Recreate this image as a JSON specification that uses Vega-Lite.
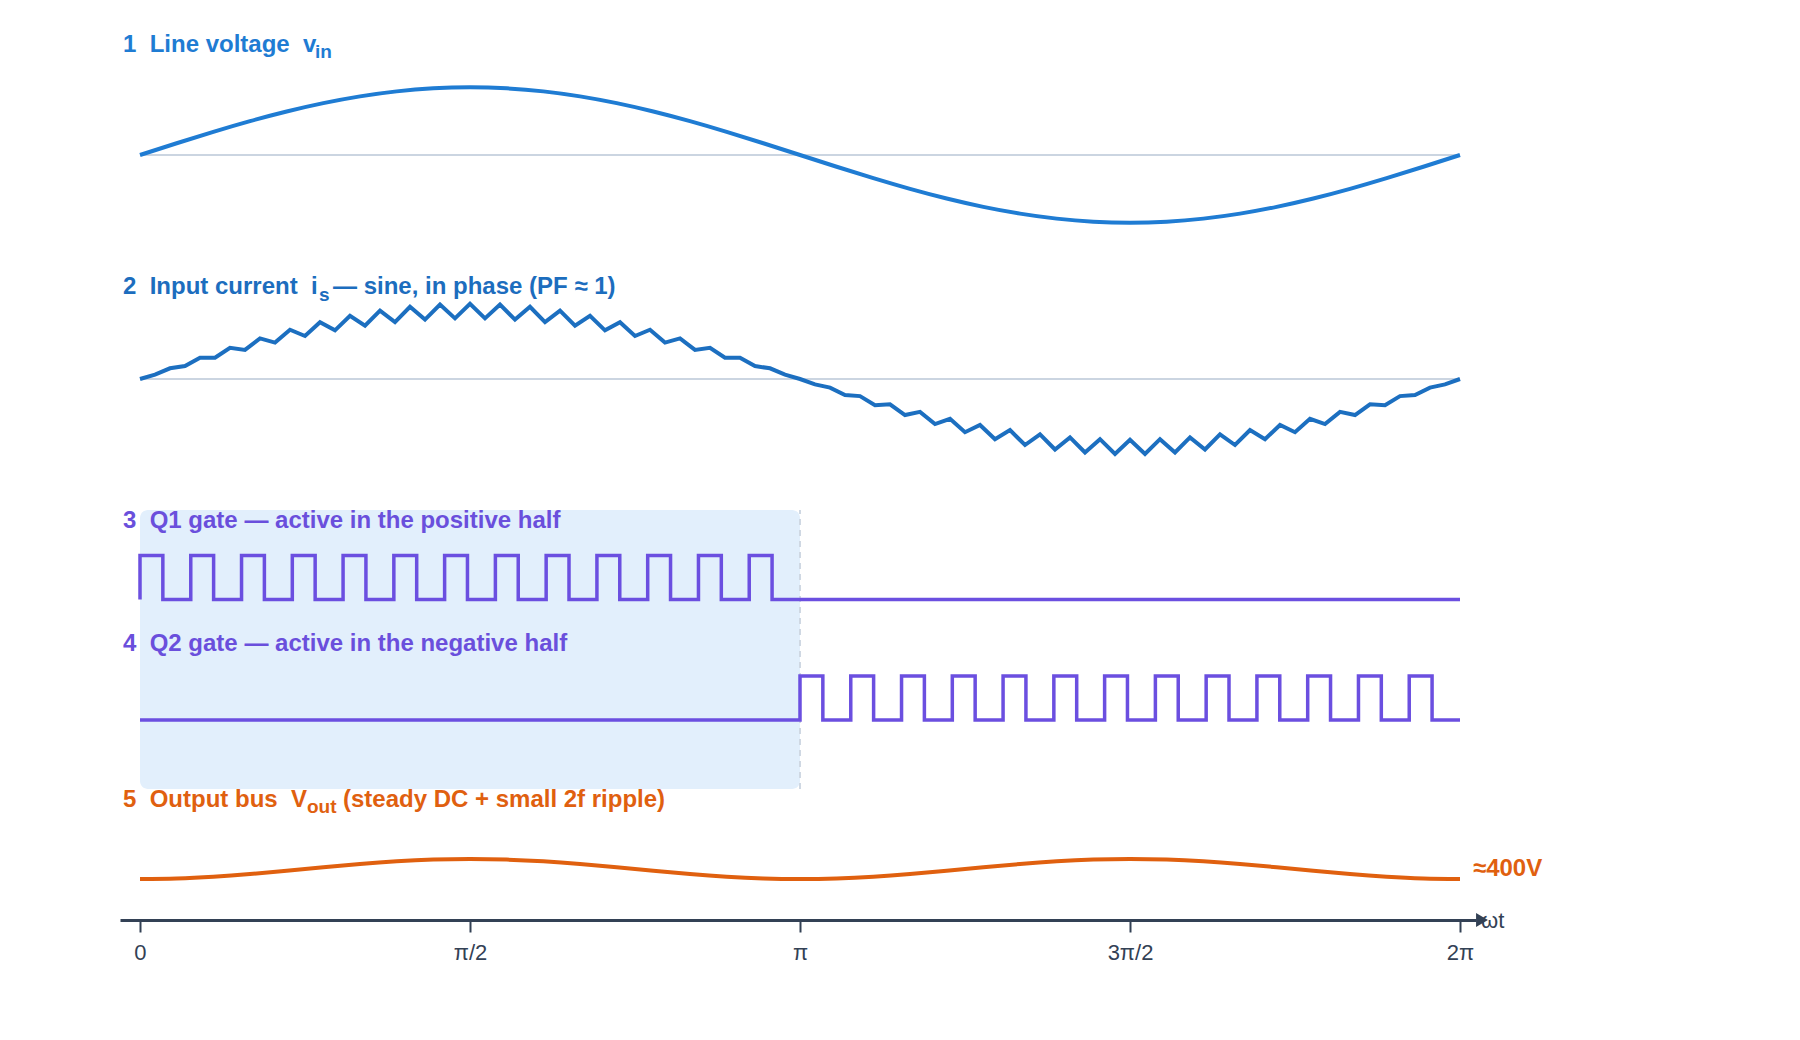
{
  "$schema": "https://vega.github.io/schema/vega-lite/v6.json",
  "width": 1800,
  "height": 1040,
  "padding": 0,
  "autosize": {"type": "fit", "contains": "padding"},
  "background": "white",
  "config": {"view": {"stroke": null}, "font": "Liberation Sans"},
  "datasets": {
    "vin": [
      {"deg": 0, "v": 0}, {"deg": 10, "v": 0.1736}, {"deg": 20, "v": 0.342}, {"deg": 30, "v": 0.5}, {"deg": 40, "v": 0.6428}, {"deg": 50, "v": 0.766}, {"deg": 60, "v": 0.866}, {"deg": 70, "v": 0.9397}, {"deg": 80, "v": 0.9848}, {"deg": 90, "v": 1},
      {"deg": 100, "v": 0.9848}, {"deg": 110, "v": 0.9397}, {"deg": 120, "v": 0.866}, {"deg": 130, "v": 0.766}, {"deg": 140, "v": 0.6428}, {"deg": 150, "v": 0.5}, {"deg": 160, "v": 0.342}, {"deg": 170, "v": 0.1736}, {"deg": 180, "v": 0},
      {"deg": 190, "v": -0.1736}, {"deg": 200, "v": -0.342}, {"deg": 210, "v": -0.5}, {"deg": 220, "v": -0.6428}, {"deg": 230, "v": -0.766}, {"deg": 240, "v": -0.866}, {"deg": 250, "v": -0.9397}, {"deg": 260, "v": -0.9848}, {"deg": 270, "v": -1},
      {"deg": 280, "v": -0.9848}, {"deg": 290, "v": -0.9397}, {"deg": 300, "v": -0.866}, {"deg": 310, "v": -0.766}, {"deg": 320, "v": -0.6428}, {"deg": 330, "v": -0.5}, {"deg": 340, "v": -0.342}, {"deg": 350, "v": -0.1736}, {"deg": 360, "v": 0}
    ],
    "is": [
      {"deg": 0, "i": 0}, {"deg": 4.091, "i": 0.0638}, {"deg": 8.182, "i": 0.1574}, {"deg": 12.273, "i": 0.19}, {"deg": 16.364, "i": 0.3116}, {"deg": 20.455, "i": 0.3124}, {"deg": 24.545, "i": 0.4595}, {"deg": 28.636, "i": 0.4284}, {"deg": 32.727, "i": 0.598}, {"deg": 36.818, "i": 0.5358}, {"deg": 40.909, "i": 0.7243}, {"deg": 45, "i": 0.6322}, {"deg": 49.091, "i": 0.8359}, {"deg": 53.182, "i": 0.7157}, {"deg": 57.273, "i": 0.9304}, {"deg": 61.364, "i": 0.7846}, {"deg": 65.455, "i": 1.0061}, {"deg": 69.545, "i": 0.8376}, {"deg": 73.636, "i": 1.0612}, {"deg": 77.727, "i": 0.8736}, {"deg": 81.818, "i": 1.0947}, {"deg": 85.909, "i": 0.8917}, {"deg": 90, "i": 1.106},
      {"deg": 94.091, "i": 0.8917}, {"deg": 98.182, "i": 1.0947}, {"deg": 102.273, "i": 0.8736}, {"deg": 106.364, "i": 1.0612}, {"deg": 110.455, "i": 0.8376}, {"deg": 114.545, "i": 1.0061}, {"deg": 118.636, "i": 0.7846}, {"deg": 122.727, "i": 0.9304}, {"deg": 126.818, "i": 0.7157}, {"deg": 130.909, "i": 0.8359}, {"deg": 135, "i": 0.6322}, {"deg": 139.091, "i": 0.7243}, {"deg": 143.182, "i": 0.5358}, {"deg": 147.273, "i": 0.598}, {"deg": 151.364, "i": 0.4284}, {"deg": 155.455, "i": 0.4595}, {"deg": 159.545, "i": 0.3124}, {"deg": 163.636, "i": 0.3116}, {"deg": 167.727, "i": 0.19}, {"deg": 171.818, "i": 0.1574}, {"deg": 175.909, "i": 0.0638}, {"deg": 180, "i": 0},
      {"deg": 184.091, "i": -0.0789}, {"deg": 188.182, "i": -0.1272}, {"deg": 192.273, "i": -0.2351}, {"deg": 196.364, "i": -0.2519}, {"deg": 200.455, "i": -0.3865}, {"deg": 204.545, "i": -0.3714}, {"deg": 208.636, "i": -0.5301}, {"deg": 212.727, "i": -0.4833}, {"deg": 216.818, "i": -0.6628}, {"deg": 220.909, "i": -0.5854}, {"deg": 225, "i": -0.7821}, {"deg": 229.091, "i": -0.6756}, {"deg": 233.182, "i": -0.8854}, {"deg": 237.273, "i": -0.7521}, {"deg": 241.364, "i": -0.9707}, {"deg": 245.455, "i": -0.8132}, {"deg": 249.545, "i": -1.0363}, {"deg": 253.636, "i": -0.8578}, {"deg": 257.727, "i": -1.0807}, {"deg": 261.818, "i": -0.8849}, {"deg": 265.909, "i": -1.1032}, {"deg": 270, "i": -0.894},
      {"deg": 274.091, "i": -1.1032}, {"deg": 278.182, "i": -0.8849}, {"deg": 282.273, "i": -1.0807}, {"deg": 286.364, "i": -0.8578}, {"deg": 290.455, "i": -1.0363}, {"deg": 294.545, "i": -0.8132}, {"deg": 298.636, "i": -0.9707}, {"deg": 302.727, "i": -0.7521}, {"deg": 306.818, "i": -0.8854}, {"deg": 310.909, "i": -0.6756}, {"deg": 315, "i": -0.7821}, {"deg": 319.091, "i": -0.5854}, {"deg": 323.182, "i": -0.6628}, {"deg": 327.273, "i": -0.4833}, {"deg": 331.364, "i": -0.5301}, {"deg": 335.455, "i": -0.3714}, {"deg": 339.545, "i": -0.3865}, {"deg": 343.636, "i": -0.2519}, {"deg": 347.727, "i": -0.2351}, {"deg": 351.818, "i": -0.1272}, {"deg": 355.909, "i": -0.0789}, {"deg": 360, "i": 0}
    ],
    "q1": [
      {"k": 0, "deg": 0, "g": 0}, {"k": 1, "deg": 0, "g": 1}, {"k": 2, "deg": 6.231, "g": 0}, {"k": 3, "deg": 13.846, "g": 1}, {"k": 4, "deg": 20.077, "g": 0}, {"k": 5, "deg": 27.692, "g": 1}, {"k": 6, "deg": 33.923, "g": 0}, {"k": 7, "deg": 41.538, "g": 1}, {"k": 8, "deg": 47.769, "g": 0}, {"k": 9, "deg": 55.385, "g": 1}, {"k": 10, "deg": 61.615, "g": 0}, {"k": 11, "deg": 69.231, "g": 1}, {"k": 12, "deg": 75.462, "g": 0}, {"k": 13, "deg": 83.077, "g": 1}, {"k": 14, "deg": 89.308, "g": 0}, {"k": 15, "deg": 96.923, "g": 1}, {"k": 16, "deg": 103.154, "g": 0}, {"k": 17, "deg": 110.769, "g": 1}, {"k": 18, "deg": 117, "g": 0}, {"k": 19, "deg": 124.615, "g": 1}, {"k": 20, "deg": 130.846, "g": 0}, {"k": 21, "deg": 138.462, "g": 1}, {"k": 22, "deg": 144.692, "g": 0}, {"k": 23, "deg": 152.308, "g": 1}, {"k": 24, "deg": 158.538, "g": 0}, {"k": 25, "deg": 166.154, "g": 1}, {"k": 26, "deg": 172.385, "g": 0}, {"k": 27, "deg": 360, "g": 0}
    ],
    "q2": [
      {"k": 0, "deg": 0, "g": 0}, {"k": 1, "deg": 180, "g": 1}, {"k": 2, "deg": 186.231, "g": 0}, {"k": 3, "deg": 193.846, "g": 1}, {"k": 4, "deg": 200.077, "g": 0}, {"k": 5, "deg": 207.692, "g": 1}, {"k": 6, "deg": 213.923, "g": 0}, {"k": 7, "deg": 221.538, "g": 1}, {"k": 8, "deg": 227.769, "g": 0}, {"k": 9, "deg": 235.385, "g": 1}, {"k": 10, "deg": 241.615, "g": 0}, {"k": 11, "deg": 249.231, "g": 1}, {"k": 12, "deg": 255.462, "g": 0}, {"k": 13, "deg": 263.077, "g": 1}, {"k": 14, "deg": 269.308, "g": 0}, {"k": 15, "deg": 276.923, "g": 1}, {"k": 16, "deg": 283.154, "g": 0}, {"k": 17, "deg": 290.769, "g": 1}, {"k": 18, "deg": 297, "g": 0}, {"k": 19, "deg": 304.615, "g": 1}, {"k": 20, "deg": 310.846, "g": 0}, {"k": 21, "deg": 318.462, "g": 1}, {"k": 22, "deg": 324.692, "g": 0}, {"k": 23, "deg": 332.308, "g": 1}, {"k": 24, "deg": 338.538, "g": 0}, {"k": 25, "deg": 346.154, "g": 1}, {"k": 26, "deg": 352.385, "g": 0}, {"k": 27, "deg": 360, "g": 0}
    ],
    "vout": [
      {"deg": 0, "v": 395}, {"deg": 10, "v": 395.3}, {"deg": 20, "v": 396.17}, {"deg": 30, "v": 397.5}, {"deg": 40, "v": 399.13}, {"deg": 50, "v": 400.87}, {"deg": 60, "v": 402.5}, {"deg": 70, "v": 403.83}, {"deg": 80, "v": 404.7}, {"deg": 90, "v": 405},
      {"deg": 100, "v": 404.7}, {"deg": 110, "v": 403.83}, {"deg": 120, "v": 402.5}, {"deg": 130, "v": 400.87}, {"deg": 140, "v": 399.13}, {"deg": 150, "v": 397.5}, {"deg": 160, "v": 396.17}, {"deg": 170, "v": 395.3}, {"deg": 180, "v": 395},
      {"deg": 190, "v": 395.3}, {"deg": 200, "v": 396.17}, {"deg": 210, "v": 397.5}, {"deg": 220, "v": 399.13}, {"deg": 230, "v": 400.87}, {"deg": 240, "v": 402.5}, {"deg": 250, "v": 403.83}, {"deg": 260, "v": 404.7}, {"deg": 270, "v": 405},
      {"deg": 280, "v": 404.7}, {"deg": 290, "v": 403.83}, {"deg": 300, "v": 402.5}, {"deg": 310, "v": 400.87}, {"deg": 320, "v": 399.13}, {"deg": 330, "v": 397.5}, {"deg": 340, "v": 396.17}, {"deg": 350, "v": 395.3}, {"deg": 360, "v": 395}
    ],
    "half": [{"start": 0, "end": 180}],
    "one": [{}]
  },
  "resolve": {"scale": {"y": "independent"}, "axis": {"x": "independent"}},
  "layer": [
    {
      "data": {"name": "half"},
      "mark": {"type": "rect", "color": "#e2effc", "cornerRadius": 8},
      "encoding": {
        "x": {"field": "start", "type": "quantitative", "scale": {"domain": [-5.4545, 364.3636], "range": [120, 1476], "nice": false, "zero": false}, "axis": null},
        "x2": {"field": "end"},
        "y": {"datum": 0, "type": "quantitative", "scale": {"domain": [0, 1], "range": [789, 510], "nice": false, "zero": false}, "axis": null},
        "y2": {"datum": 1}
      }
    },
    {
      "data": {"name": "half"},
      "mark": {"type": "rule", "color": "#cfd8e3", "strokeWidth": 2, "strokeDash": [6, 5]},
      "encoding": {
        "x": {"field": "end", "type": "quantitative", "scale": {"domain": [-5.4545, 364.3636], "range": [120, 1476], "nice": false, "zero": false}, "axis": null},
        "y": {"datum": 0, "type": "quantitative", "scale": {"domain": [0, 1], "range": [789, 510], "nice": false, "zero": false}, "axis": null},
        "y2": {"datum": 1}
      }
    },
    {
      "data": {"name": "one"},
      "mark": {"type": "rule", "color": "#cbd5e1", "strokeWidth": 2},
      "encoding": {
        "x": {"datum": 0, "type": "quantitative", "scale": {"domain": [-5.4545, 364.3636], "range": [120, 1476], "nice": false, "zero": false}, "axis": null},
        "x2": {"datum": 360},
        "y": {"datum": 0, "type": "quantitative", "scale": {"domain": [-1, 1], "range": [222.7, 87.3], "nice": false, "zero": false}, "axis": null}
      }
    },
    {
      "data": {"name": "vin"},
      "mark": {"type": "line", "interpolate": "natural", "strokeWidth": 4, "color": "#1f7cd3"},
      "encoding": {
        "x": {
          "field": "deg", "type": "quantitative",
          "scale": {"domain": [-5.4545, 364.3636], "range": [120, 1476], "nice": false, "zero": false},
          "axis": {
            "orient": "bottom", "offset": -120, "values": [0, 90, 180, 270, 360],
            "labelExpr": "datum.value == 0 ? '0' : datum.value == 90 ? 'π/2' : datum.value == 180 ? 'π' : datum.value == 270 ? '3π/2' : '2π'",
            "title": null, "grid": false,
            "domain": true, "domainColor": "#334155", "domainWidth": 3,
            "ticks": true, "tickSize": 12, "tickWidth": 2, "tickColor": "#334155",
            "labelFont": "Liberation Sans", "labelFontSize": 22, "labelColor": "#334155", "labelPadding": 10,
            "labelFlush": false, "labelOverlap": false
          }
        },
        "y": {"field": "v", "type": "quantitative", "scale": {"domain": [-1, 1], "range": [222.7, 87.3], "nice": false, "zero": false}, "axis": null}
      }
    },
    {
      "data": {"name": "one"},
      "mark": {"type": "text", "text": "1\u00a0\u00a0Line voltage\u00a0\u00a0v", "font": "Liberation Sans", "fontSize": 24, "fontWeight": "bold", "color": "#1f7cd3", "align": "left", "baseline": "alphabetic", "dx": -17},
      "encoding": {
        "x": {"datum": 0, "type": "quantitative", "scale": {"domain": [-5.4545, 364.3636], "range": [120, 1476], "nice": false, "zero": false}, "axis": null},
        "y": {"datum": 1.517, "type": "quantitative", "scale": {"domain": [-1, 1], "range": [222.7, 87.3], "nice": false, "zero": false}, "axis": null}
      }
    },
    {
      "data": {"name": "one"},
      "mark": {"type": "text", "text": "in", "font": "Liberation Sans", "fontSize": 19, "fontWeight": "bold", "color": "#1f7cd3", "align": "left", "baseline": "alphabetic", "dx": 175},
      "encoding": {
        "x": {"datum": 0, "type": "quantitative", "scale": {"domain": [-5.4545, 364.3636], "range": [120, 1476], "nice": false, "zero": false}, "axis": null},
        "y": {"datum": 1.44, "type": "quantitative", "scale": {"domain": [-1, 1], "range": [222.7, 87.3], "nice": false, "zero": false}, "axis": null}
      }
    },
    {
      "data": {"name": "one"},
      "mark": {"type": "rule", "color": "#cbd5e1", "strokeWidth": 2},
      "encoding": {
        "x": {"datum": 0, "type": "quantitative", "scale": {"domain": [-5.4545, 364.3636], "range": [120, 1476], "nice": false, "zero": false}, "axis": null},
        "x2": {"datum": 360},
        "y": {"datum": 0, "type": "quantitative", "scale": {"domain": [-1, 1], "range": [447, 311], "nice": false, "zero": false}, "axis": null}
      }
    },
    {
      "data": {"name": "is"},
      "mark": {"type": "line", "strokeWidth": 4, "color": "#1c6fc0"},
      "encoding": {
        "x": {"field": "deg", "type": "quantitative", "scale": {"domain": [-5.4545, 364.3636], "range": [120, 1476], "nice": false, "zero": false}, "axis": null},
        "y": {"field": "i", "type": "quantitative", "scale": {"domain": [-1, 1], "range": [447, 311], "nice": false, "zero": false}, "axis": null}
      }
    },
    {
      "data": {"name": "one"},
      "mark": {"type": "text", "text": "2\u00a0\u00a0Input current\u00a0\u00a0i", "font": "Liberation Sans", "fontSize": 24, "fontWeight": "bold", "color": "#1c6dbe", "align": "left", "baseline": "alphabetic", "dx": -17},
      "encoding": {
        "x": {"datum": 0, "type": "quantitative", "scale": {"domain": [-5.4545, 364.3636], "range": [120, 1476], "nice": false, "zero": false}, "axis": null},
        "y": {"datum": 1.243, "type": "quantitative", "scale": {"domain": [-1, 1], "range": [447, 311], "nice": false, "zero": false}, "axis": null}
      }
    },
    {
      "data": {"name": "one"},
      "mark": {"type": "text", "text": "s", "font": "Liberation Sans", "fontSize": 19, "fontWeight": "bold", "color": "#1c6dbe", "align": "left", "baseline": "alphabetic", "dx": 179},
      "encoding": {
        "x": {"datum": 0, "type": "quantitative", "scale": {"domain": [-5.4545, 364.3636], "range": [120, 1476], "nice": false, "zero": false}, "axis": null},
        "y": {"datum": 1.147, "type": "quantitative", "scale": {"domain": [-1, 1], "range": [447, 311], "nice": false, "zero": false}, "axis": null}
      }
    },
    {
      "data": {"name": "one"},
      "mark": {"type": "text", "text": "— sine, in phase (PF ≈ 1)", "font": "Liberation Sans", "fontSize": 24, "fontWeight": "bold", "color": "#1c6dbe", "align": "left", "baseline": "alphabetic", "dx": 193},
      "encoding": {
        "x": {"datum": 0, "type": "quantitative", "scale": {"domain": [-5.4545, 364.3636], "range": [120, 1476], "nice": false, "zero": false}, "axis": null},
        "y": {"datum": 1.243, "type": "quantitative", "scale": {"domain": [-1, 1], "range": [447, 311], "nice": false, "zero": false}, "axis": null}
      }
    },
    {
      "data": {"name": "q1"},
      "mark": {"type": "line", "interpolate": "step-after", "strokeWidth": 3.5, "color": "#6b4fe0"},
      "encoding": {
        "x": {"field": "deg", "type": "quantitative", "scale": {"domain": [-5.4545, 364.3636], "range": [120, 1476], "nice": false, "zero": false}, "axis": null},
        "y": {"field": "g", "type": "quantitative", "scale": {"domain": [0, 1], "range": [599.5, 555.5], "nice": false, "zero": false}, "axis": null},
        "order": {"field": "k", "type": "quantitative"}
      }
    },
    {
      "data": {"name": "one"},
      "mark": {"type": "text", "text": "3\u00a0\u00a0Q1 gate — active in the positive half", "font": "Liberation Sans", "fontSize": 24, "fontWeight": "bold", "color": "#6a4fdc", "align": "left", "baseline": "alphabetic", "dx": -17},
      "encoding": {
        "x": {"datum": 0, "type": "quantitative", "scale": {"domain": [-5.4545, 364.3636], "range": [120, 1476], "nice": false, "zero": false}, "axis": null},
        "y": {"datum": 1.636, "type": "quantitative", "scale": {"domain": [0, 1], "range": [599.5, 555.5], "nice": false, "zero": false}, "axis": null}
      }
    },
    {
      "data": {"name": "q2"},
      "mark": {"type": "line", "interpolate": "step-after", "strokeWidth": 3.5, "color": "#6b4fe0"},
      "encoding": {
        "x": {"field": "deg", "type": "quantitative", "scale": {"domain": [-5.4545, 364.3636], "range": [120, 1476], "nice": false, "zero": false}, "axis": null},
        "y": {"field": "g", "type": "quantitative", "scale": {"domain": [0, 1], "range": [720, 676], "nice": false, "zero": false}, "axis": null},
        "order": {"field": "k", "type": "quantitative"}
      }
    },
    {
      "data": {"name": "one"},
      "mark": {"type": "text", "text": "4\u00a0\u00a0Q2 gate — active in the negative half", "font": "Liberation Sans", "fontSize": 24, "fontWeight": "bold", "color": "#6a4fdc", "align": "left", "baseline": "alphabetic", "dx": -17},
      "encoding": {
        "x": {"datum": 0, "type": "quantitative", "scale": {"domain": [-5.4545, 364.3636], "range": [120, 1476], "nice": false, "zero": false}, "axis": null},
        "y": {"datum": 1.557, "type": "quantitative", "scale": {"domain": [0, 1], "range": [720, 676], "nice": false, "zero": false}, "axis": null}
      }
    },
    {
      "data": {"name": "vout"},
      "mark": {"type": "line", "interpolate": "natural", "strokeWidth": 4, "color": "#e0600f"},
      "encoding": {
        "x": {"field": "deg", "type": "quantitative", "scale": {"domain": [-5.4545, 364.3636], "range": [120, 1476], "nice": false, "zero": false}, "axis": null},
        "y": {"field": "v", "type": "quantitative", "scale": {"domain": [395, 405], "range": [879, 859], "nice": false, "zero": false}, "axis": null}
      }
    },
    {
      "data": {"name": "one"},
      "mark": {"type": "text", "text": "5\u00a0\u00a0Output bus\u00a0\u00a0V", "font": "Liberation Sans", "fontSize": 24, "fontWeight": "bold", "color": "#e0600f", "align": "left", "baseline": "alphabetic", "dx": -17},
      "encoding": {
        "x": {"datum": 0, "type": "quantitative", "scale": {"domain": [-5.4545, 364.3636], "range": [120, 1476], "nice": false, "zero": false}, "axis": null},
        "y": {"datum": 431.25, "type": "quantitative", "scale": {"domain": [395, 405], "range": [879, 859], "nice": false, "zero": false}, "axis": null}
      }
    },
    {
      "data": {"name": "one"},
      "mark": {"type": "text", "text": "out", "font": "Liberation Sans", "fontSize": 19, "fontWeight": "bold", "color": "#e0600f", "align": "left", "baseline": "alphabetic", "dx": 167},
      "encoding": {
        "x": {"datum": 0, "type": "quantitative", "scale": {"domain": [-5.4545, 364.3636], "range": [120, 1476], "nice": false, "zero": false}, "axis": null},
        "y": {"datum": 428, "type": "quantitative", "scale": {"domain": [395, 405], "range": [879, 859], "nice": false, "zero": false}, "axis": null}
      }
    },
    {
      "data": {"name": "one"},
      "mark": {"type": "text", "text": "(steady DC + small 2f ripple)", "font": "Liberation Sans", "fontSize": 24, "fontWeight": "bold", "color": "#e0600f", "align": "left", "baseline": "alphabetic", "dx": 203},
      "encoding": {
        "x": {"datum": 0, "type": "quantitative", "scale": {"domain": [-5.4545, 364.3636], "range": [120, 1476], "nice": false, "zero": false}, "axis": null},
        "y": {"datum": 431.25, "type": "quantitative", "scale": {"domain": [395, 405], "range": [879, 859], "nice": false, "zero": false}, "axis": null}
      }
    },
    {
      "data": {"name": "one"},
      "mark": {"type": "text", "text": "≈400V", "font": "Liberation Sans", "fontSize": 24, "fontWeight": "bold", "color": "#e0600f", "align": "left", "baseline": "middle", "dx": 13},
      "encoding": {
        "x": {"datum": 360, "type": "quantitative", "scale": {"domain": [-5.4545, 364.3636], "range": [120, 1476], "nice": false, "zero": false}, "axis": null},
        "y": {"datum": 400, "type": "quantitative", "scale": {"domain": [395, 405], "range": [879, 859], "nice": false, "zero": false}, "axis": null}
      }
    },
    {
      "data": {"name": "one"},
      "mark": {"type": "text", "text": "ωt", "font": "Liberation Sans", "fontSize": 22, "color": "#334155", "align": "left", "baseline": "middle", "dx": 21},
      "encoding": {
        "x": {"datum": 360, "type": "quantitative", "scale": {"domain": [-5.4545, 364.3636], "range": [120, 1476], "nice": false, "zero": false}, "axis": null},
        "y": {"datum": 374, "type": "quantitative", "scale": {"domain": [395, 405], "range": [879, 859], "nice": false, "zero": false}, "axis": null}
      }
    },
    {
      "data": {"name": "one"},
      "mark": {"type": "point", "shape": "M -0.85 -1 L 0.85 0 L -0.85 1 Z", "size": 196, "filled": true, "color": "#334155", "opacity": 1},
      "encoding": {
        "x": {"datum": 366, "type": "quantitative", "scale": {"domain": [-5.4545, 364.3636], "range": [120, 1476], "nice": false, "zero": false}, "axis": null},
        "y": {"datum": 374.5, "type": "quantitative", "scale": {"domain": [395, 405], "range": [879, 859], "nice": false, "zero": false}, "axis": null}
      }
    }
  ]
}
